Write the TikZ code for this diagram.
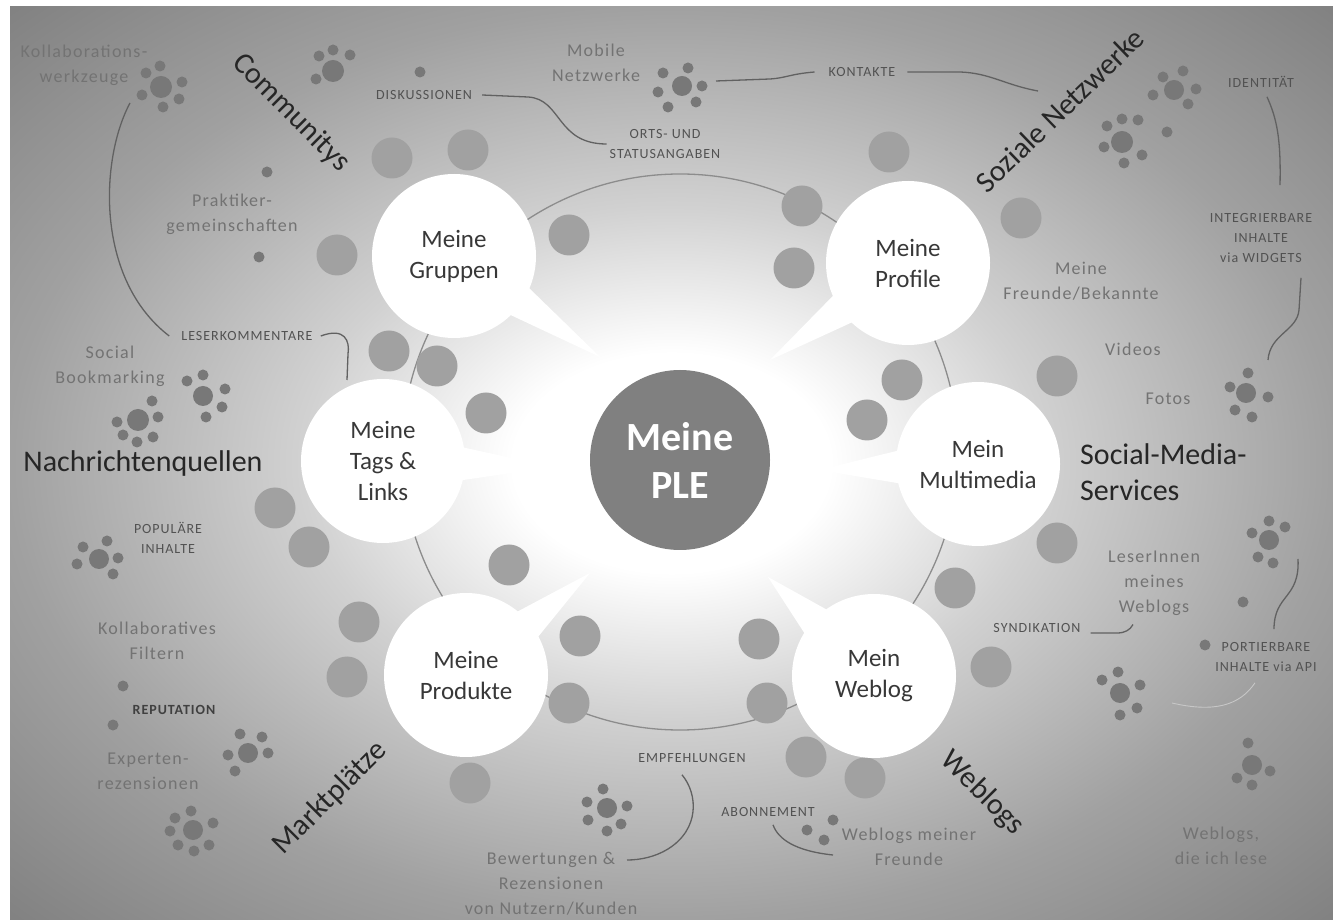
\documentclass[tikz,border=0pt]{standalone}
\usepackage{fontspec}
\setmainfont{Carlito}
\newfontfamily\lblfont[LetterSpace=7]{Carlito}
\usetikzlibrary{calc}

\pgfdeclareradialshading{plebg}{\pgfpoint{0bp}{0bp}}{color(0bp)=(white); color(6bp)=(white); color(14bp)=(black!18); color(25bp)=(black!37); color(36bp)=(black!50); color(50bp)=(black!50)}

% core dot with its ring of small dots
\newcommand{\dotcluster}[4]{%
    \fill[sdot] (#1, #2) circle (#3pt);
    \foreach \dx/\dy in {#4} {\fill[sdot] ({#1+(\dx)}, {#2+(\dy)}) circle (5.5pt);}
}

\begin{document}
\begin{tikzpicture}[x=1pt, y=1pt,
    bubble/.style={circle, fill=white, minimum size=164, inner sep=0, align=center, text=black!78, font=\fontsize{25}{31}\selectfont},
    hub/.style={circle, fill=black!50, minimum size=180, inner sep=0, align=center, text=white, font=\bfseries\fontsize{40}{48}\selectfont},
    area/.style={inner sep=0, text=black!85, font=\fontsize{30}{36}\selectfont},
    lbl/.style={inner sep=0, align=center, text=black!55, font=\lblfont\fontsize{18}{25}\selectfont},
    caps/.style={inner sep=0, align=center, text=black!68, font=\lblfont\fontsize{14}{20}\selectfont},
    gdot/.style={fill=black!37},
    sdot/.style={fill=black!53},
    link/.style={draw=black!62, line width=1.3},
    ring/.style={draw=black!45, line width=1.3}]

            \useasboundingbox (0, 0) rectangle (1333, 919);
            \fill[white] (0, 0) rectangle (1333, 919);
            \shade[shading=plebg] (10, 0) rectangle (1333, 912);

            \draw[ring] (680, 467) circle (278pt);

            \foreach \x/\y in {392/761, 468/769, 337/664, 569/684, 389/568, 437/553, 486/506, 275/411, 309/372, 359/297, 347/242, 509/354, 580/283, 569/216, 470/136, 889/767, 802/713, 794/651, 1021/701, 902/539, 867/499, 1057/543, 1057/376, 955/331, 991/252, 759/280, 767/216, 806/162, 865/141}
                \fill[gdot] (\x, \y) circle (20.5pt);

            \node (grp) at (454, 663) [bubble] {Meine\\Gruppen};
            \node (prof) at (908, 656) [bubble] {Meine\\Profile};
            \node (tags) at (383, 458) [bubble] {Meine\\Tags \&\\Links};
            \node (mm) at (978, 455) [bubble] {Mein\\Multimedia};
            \node (prod) at (466, 244) [bubble] {Meine\\Produkte};
            \node (web) at (874, 243) [bubble] {Mein\\Weblog};
            \node (ple) at (680, 459) [hub] {Meine\\PLE};

            %Tails of the speech bubbles.
            \coordinate (grp-tip) at (600, 562);
            \coordinate (prof-tip) at (770, 559);
            \coordinate (tags-tip) at (553, 452);
            \coordinate (mm-tip) at (819, 449);
            \coordinate (prod-tip) at (590, 346);
            \coordinate (web-tip) at (768, 342);
            \foreach \b in {grp, prof, tags, mm, prod, web}
                \fill[white] ($(\b.center)!80pt!12:(\b-tip)$) -- (\b-tip) -- ($(\b.center)!80pt!-12:(\b-tip)$) -- cycle;

            \dotcluster{161}{832}{11}{-1/21, -15/14, 21/5, -19/-8, 18/-12, 2/-20}
            \dotcluster{333}{848}{11}{0/21, -14/15, 17/16, -17/-8}
            \dotcluster{682}{833}{10}{6/18, -19/13, 20/0, -24/-6, 14/-16, -14/-21}
            \dotcluster{1174}{829}{10}{9/19, -11/13, 22/1, -21/-5, 14/-14}
            \dotcluster{1122}{777}{11}{-15/16, 0/23, 16/22, -18/-5, 20/-13, 2/-21}
            \dotcluster{1246}{526}{10}{2/20, -16/6, 22/-4, -11/-17, 6/-24}
            \dotcluster{203}{523}{10}{0/21, -16/15, 22/7, 19/-11, 3/-21}
            \dotcluster{138}{499}{11}{14/19, -21/-2, 20/3, -15/-15, -1/-22, 15/-17}
            \dotcluster{99}{360}{10}{8/18, -16/12, 19/1, -22/-5, 14/-15}
            \dotcluster{248}{166}{10}{-8/19, 14/16, -20/-2, 20/0, -13/-18}
            \dotcluster{193}{89}{10}{-2/19, -18/12, 20/7, -23/-1, -15/-15, 16/-15, 1/-21}
            \dotcluster{607}{111}{10}{-4/19, -20/6, 20/2, -19/-12, 14/-16, 0/-23}
            \dotcluster{1269}{379}{10}{0/19, -17/7, 16/13, -11/-17, 4/-23}
            \dotcluster{1120}{226}{10}{-2/21, -18/13, 20/8, 17/-15, 0/-22}
            \dotcluster{1252}{154}{10}{-4/22, 18/-6, -15/-13, 0/-20}
            \foreach \x/\y in {420/847, 267/747, 259/662, 1167/787, 123/233, 113/194, 833/99, 807/89, 824/79, 1243/317, 1205/274}
                \fill[sdot] (\x, \y) circle (5.5pt);

            \node (comm) at (291, 806) [area, rotate=-45] {Communitys};
            \node (soz) at (1060, 809) [area, rotate=44] {Soziale Netzwerke};
            \node (nach) at (143, 455) [area] {Nachrichtenquellen};
            \node (sms) at (1080, 447) [area, anchor=west, align=left] {Social-Media-\\Services};
            \node (markt) at (330, 121) [area, rotate=45] {Marktplätze};
            \node (wblg) at (982, 126) [area, rotate=-45] {Weblogs};

            \node (kwz) at (84, 854) [lbl] {Kollaborations-\\werkzeuge};
            \node (mob) at (596, 856) [lbl] {Mobile\\Netzwerke};
            \node (prak) at (232, 705) [lbl] {Praktiker-\\gemeinschaften};
            \node (frd) at (1081, 638) [lbl] {Meine\\Freunde/Bekannte};
            \node (vid) at (1133, 570) [lbl] {Videos};
            \node (fots) at (1168, 520) [lbl] {Fotos};
            \node (sbm) at (110, 553) [lbl] {Social\\Bookmarking};
            \node (kfil) at (157, 278) [lbl] {Kollaboratives\\Filtern};
            \node (expz) at (148, 148) [lbl] {Experten-\\rezensionen};
            \node (bew) at (551, 35) [lbl] {Bewertungen \&\\Rezensionen\\von Nutzern/Kunden};
            \node (wmf) at (909, 72) [lbl] {Weblogs meiner\\Freunde};
            \node (lsi) at (1154, 336) [lbl] {LeserInnen\\meines\\Weblogs};
            \node (wdl) at (1221, 73) [lbl] {Weblogs,\\die ich lese};

            \node (disk) at (424, 824) [caps] {DISKUSSIONEN};
            \node (orts) at (665, 775) [caps] {ORTS- UND\\STATUSANGABEN};
            \node (kont) at (862, 847) [caps] {KONTAKTE};
            \node (ident) at (1261, 837) [caps] {IDENTITÄT};
            \node (integ) at (1261, 681) [caps] {INTEGRIERBARE\\INHALTE\\via WIDGETS};
            \node (lesk) at (247, 583) [caps] {LESERKOMMENTARE};
            \node (popi) at (168, 381) [caps] {POPULÄRE\\INHALTE};
            \node (repu) at (174, 209) [caps, text=black!75, font=\lblfont\bfseries\fontsize{14}{20}\selectfont] {REPUTATION};
            \node (empf) at (692, 161) [caps] {EMPFEHLUNGEN};
            \node (abo) at (768, 107) [caps] {ABONNEMENT};
            \node (synd) at (1037, 291) [caps] {SYNDIKATION};
            \node (port) at (1266, 262) [caps] {PORTIERBARE\\INHALTE via API};

            %Hand-drawn connectors between the labels.
            \coordinate (kwz-foot) at (130, 816);
            \draw[link] (kwz-foot) .. controls (100, 760) and (95, 640) .. ([xshift=-12pt]lesk.west);
            \coordinate (lesk-foot) at (347, 539);
            \draw[link] ([xshift=8pt]lesk.east) .. controls (345, 592) and (350, 578) .. (348, 565) -- (lesk-foot);

            \draw[link] ([xshift=10pt]disk.east) -- (528, 822) .. controls (562, 820) and (556, 775) .. ([xshift=-3pt]orts.west);

            \coordinate (mob-r) at (716, 838);
            \draw[link] (mob-r) -- (770, 840) .. controls (786, 841) and (790, 845) .. ([xshift=-14pt]kont.west);
            \coordinate (kont-r) at (1038, 828);
            \draw[link] ([xshift=12pt]kont.east) -- (960, 847) .. controls (990, 846) and (1005, 834) .. (kont-r);

            \draw[link] ([shift={(6pt,-9pt)}]ident.south) .. controls (1277, 800) and (1281, 780) .. ([shift={(19pt,28pt)}]integ.north);
            \coordinate (fot-top) at (1268, 559);
            \draw[link] ([shift={(40pt,-15pt)}]integ.south) -- (1299, 609) .. controls (1297, 588) and (1270, 585) .. (fot-top);

            \coordinate (bew-tip) at (627, 59);
            \draw[link] ([shift={(-10pt,-12pt)}]empf.south) .. controls (698, 125) and (700, 90) .. (668, 70) .. controls (655, 62) and (640, 59) .. (bew-tip);
            \coordinate (abo-foot) at (833, 64);
            \draw[link] ([shift={(5pt,-8pt)}]abo.south) .. controls (778, 80) and (795, 68) .. (abo-foot);

            \draw[link] ([shift={(10pt,-5pt)}]synd.east) -- (1117, 286) .. controls (1125, 286) and (1130, 289) .. ([shift={(-21pt,-9pt)}]lsi.south);
            \coordinate (li-foot) at (1298, 360);
            \draw[link] (li-foot) .. controls (1300, 320) and (1274, 325) .. ([shift={(8pt,13pt)}]port.north);
            \coordinate (syn-r) at (1172, 216);
            \draw[link, draw=black!22, line width=0.9] ([shift={(-11pt,-11pt)}]port.south) .. controls (1240, 214) and (1215, 206) .. (syn-r);
\end{tikzpicture}
\end{document}
